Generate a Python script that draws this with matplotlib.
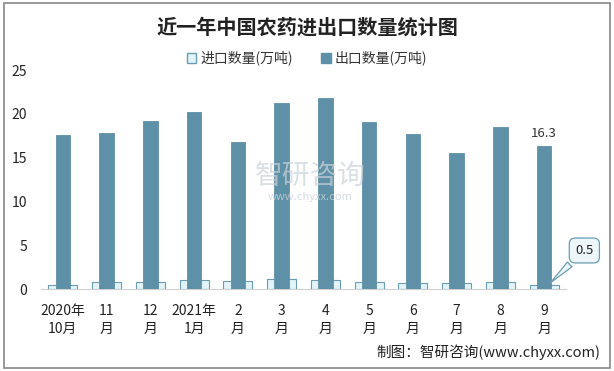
import matplotlib.pyplot as plt
import numpy as np
from matplotlib.patches import Rectangle, Patch

plt.rcParams['font.family'] = ['Noto Sans CJK SC', 'DejaVu Sans']

months = ['2020年\n10月', '11\n月', '12\n月', '2021年\n1月', '2\n月', '3\n月',
          '4\n月', '5\n月', '6\n月', '7\n月', '8\n月', '9\n月']
imports = [0.5, 0.8, 0.8, 1.0, 0.9, 1.1, 1.0, 0.8, 0.7, 0.7, 0.8, 0.5]
exports = [17.6, 17.8, 19.2, 20.2, 16.8, 21.3, 21.8, 19.1, 17.7, 15.5, 18.5, 16.3]

c_exp = '#5E90A7'
c_imp = '#E2F4F8'
c_edge = '#6A9DB1'

fig = plt.figure(figsize=(6.14, 3.71), dpi=100)
ax = fig.add_axes([0.0668, 0.221, 0.855, 0.590])

x = np.arange(len(months))
ax.bar(x, imports, 0.66, color=c_imp, edgecolor=c_edge, linewidth=0.8, zorder=2)
ax.bar(x, exports, 0.33, color=c_exp, edgecolor=c_exp, linewidth=0.6, zorder=3)

ax.set_xlim(-0.5, 11.5)
ax.set_ylim(0, 25)
ax.set_yticks([0, 5, 10, 15, 20, 25])
ax.set_xticks(x)
ax.set_xticklabels(months, fontsize=10, color='#222222', linespacing=1.3)
ax.tick_params(axis='both', length=0, labelsize=10, colors='#222222')
ax.tick_params(axis='y', pad=10)
ax.tick_params(axis='x', pad=11)
for s in ['top', 'right', 'left']:
    ax.spines[s].set_visible(False)
ax.spines['bottom'].set_color('#D0D0D0')

# 数据标签
ax.text(11, exports[11] + 0.7, f'{exports[11]}', ha='center', va='bottom', fontsize=9.5, color='#333333')
ax.annotate(f'{imports[11]}', xy=(11.1, imports[11]), xytext=(11.92, 4.4),
            ha='center', va='center', fontsize=9.5, color='#222222', annotation_clip=False,
            bbox=dict(boxstyle='round,pad=0.45', fc='#EDF7F9', ec=c_edge, lw=0.9),
            arrowprops=dict(arrowstyle='wedge,tail_width=0.5', fc='#EDF7F9', ec=c_edge, lw=0.9))

# 图例
handles = [Patch(facecolor=c_imp, edgecolor=c_edge, label='进口数量(万吨)'),
           Patch(facecolor=c_exp, edgecolor=c_exp, label='出口数量(万吨)')]
fig.legend(handles=handles, loc='center', bbox_to_anchor=(0.5, 0.843), ncol=2, frameon=False,
           fontsize=10, handlelength=0.7, handleheight=0.7, handletextpad=0.3, columnspacing=2.0,
           labelcolor='#333333')

fig.text(0.5, 0.928, '近一年中国农药进出口数量统计图', ha='center', va='center',
         fontsize=14.5, fontweight='bold', color='#222222')

# 水印
fig.text(0.505, 0.525, '智研咨询', ha='center', va='center', fontsize=20, color='#CBD2DA', alpha=0.7, zorder=0)
fig.text(0.505, 0.468, 'www.chyxx.com', ha='center', va='center', fontsize=8, color='#CBD2DA', alpha=0.8, zorder=0)

fig.text(0.978, 0.05, '制图：智研咨询(www.chyxx.com)', ha='right', va='center', fontsize=10.5, color='#222222')

fig.patches.append(Rectangle((0.006, 0.008), 0.988, 0.984, transform=fig.transFigure,
                             fill=False, edgecolor='#888888', linewidth=1.2))

fig.savefig('out.png', dpi=100)
